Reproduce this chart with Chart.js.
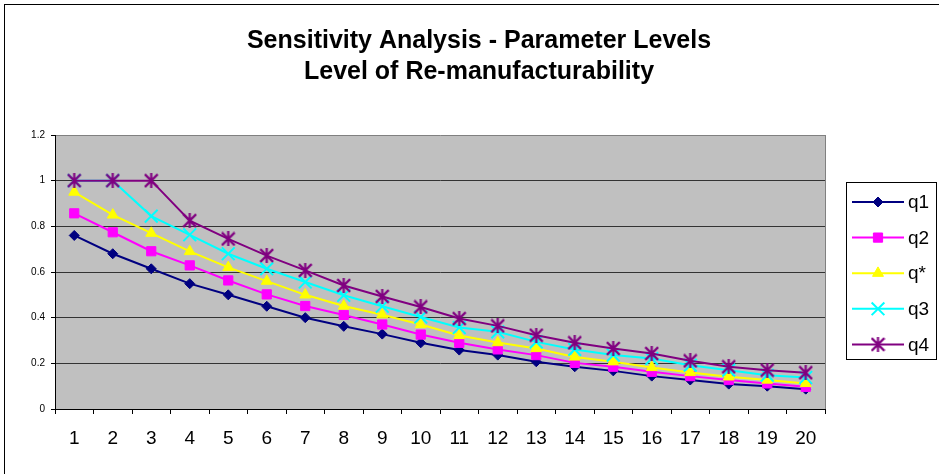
<!DOCTYPE html>
<html lang="en">
<head>
<meta charset="utf-8">
<title>Sensitivity Analysis - Parameter Levels</title>
<script src="https://cdn.jsdelivr.net/npm/chart.js@4.4.1/dist/chart.umd.min.js"></script>
<style>
  html, body { margin: 0; padding: 0; background: #fff; }
  #wrap { width: 939px; height: 474px; }
</style>
</head>
<body>
<div id="wrap">
  <canvas id="levelChart" width="939" height="474"></canvas>
</div>
<script>
// x categories
const periods = ['1', '2', '3', '4', '5', '6', '7', '8', '9', '10',
  '11', '12', '13', '14', '15', '16', '17', '18', '19', '20'];

// series values
const q1 = [0.76, 0.68, 0.614, 0.549, 0.50, 0.45, 0.40, 0.362, 0.328, 0.29,
  0.258, 0.236, 0.207, 0.185, 0.167, 0.144, 0.127, 0.109, 0.10, 0.087];
const q2 = [0.857, 0.774, 0.691, 0.629, 0.563, 0.502, 0.451, 0.412, 0.37, 0.326,
  0.29, 0.261, 0.236, 0.202, 0.185, 0.163, 0.144, 0.127, 0.112, 0.097];
const qStar = [0.95, 0.85, 0.77, 0.69, 0.62, 0.56, 0.50, 0.451, 0.413, 0.37,
  0.322, 0.291, 0.265, 0.228, 0.207, 0.182, 0.16, 0.141, 0.127, 0.112];
const q3 = [1.0, 1.0, 0.845, 0.763, 0.68, 0.614, 0.556, 0.498, 0.45, 0.403,
  0.357, 0.338, 0.294, 0.261, 0.236, 0.221, 0.192, 0.17, 0.148, 0.138];
const q4 = [1.0, 1.0, 1.0, 0.825, 0.745, 0.672, 0.607, 0.541, 0.493, 0.447,
  0.396, 0.364, 0.323, 0.29, 0.265, 0.243, 0.211, 0.185, 0.17, 0.159];

// y axis tick labels (0 .. 1.2 step 0.2)
const yTickLabels = ['0', '0.2', '0.4', '0.6', '0.8', '1', '1.2'];

const titleLines = ['Sensitivity Analysis - Parameter Levels', 'Level of Re-manufacturability'];

const FONT = "'Liberation Sans', Arial, Helvetica, sans-serif";

// asterisk marker: an X (same size as the crossRot marker) plus a vertical bar
function makeStar(color, size) {
  const c = document.createElement('canvas');
  c.width = size;
  c.height = size;
  const g = c.getContext('2d');
  const h = size / 2;
  const d = 6.4;
  g.strokeStyle = color;
  g.lineWidth = 2.2;
  g.beginPath();
  g.moveTo(h, 0);
  g.lineTo(h, size);
  g.moveTo(h - d, h - d);
  g.lineTo(h + d, h + d);
  g.moveTo(h + d, h - d);
  g.lineTo(h - d, h + d);
  g.stroke();
  return c;
}
const starMark = makeStar('#800080', 15);

function series(label, data, color, pointStyle, radius, borderWidth, order) {
  return {
    label: label,
    data: data,
    borderColor: color,
    backgroundColor: color,
    borderWidth: 2,
    pointStyle: pointStyle,
    pointRadius: radius,
    pointBorderWidth: borderWidth,
    pointBackgroundColor: color,
    pointBorderColor: color,
    tension: 0,
    fill: false,
    order: order,
  };
}

const datasets = [
  series('q1', q1, '#000080', 'rectRot', 5, 1, 5),
  series('q2', q2, '#FF00FF', 'rect', 6.5, 1, 4),
  series('q*', qStar, '#FFFF00', 'triangle', 6.3, 1, 3),
  series('q3', q3, '#00FFFF', 'crossRot', 9, 2, 2),
  series('q4', q4, '#800080', starMark, 7.5, 1, 1),
];

// white page, outer frame and grey plot area
const backdrop = {
  id: 'backdrop',
  beforeDraw(chart) {
    const { ctx, chartArea: a } = chart;
    ctx.save();
    ctx.fillStyle = '#fff';
    ctx.fillRect(0, 0, chart.width, chart.height);
    ctx.strokeStyle = '#000';
    ctx.lineWidth = 1;
    ctx.strokeRect(4.5, 4.5, 1200, 1200);
    ctx.fillStyle = '#C0C0C0';
    ctx.fillRect(a.left, a.top, a.right - a.left, a.bottom - a.top);
    ctx.restore();
  },
  beforeDatasetsDraw(chart) {
    const { ctx, chartArea: a } = chart;
    ctx.save();
    ctx.strokeStyle = '#808080';
    ctx.lineWidth = 1;
    ctx.beginPath();
    ctx.moveTo(a.right + 0.5, a.top);
    ctx.lineTo(a.right + 0.5, a.bottom);
    ctx.stroke();
    ctx.restore();
  },
};

// two-line heading
const heading = {
  id: 'heading',
  afterDraw(chart) {
    const ctx = chart.ctx;
    ctx.save();
    ctx.fillStyle = '#000';
    ctx.font = 'bold 25px ' + FONT;
    ctx.textAlign = 'center';
    ctx.textBaseline = 'middle';
    ctx.fillText(titleLines[0], 479, 41);
    ctx.fillText(titleLines[1], 479, 72);
    ctx.restore();
  },
};

// boxed legend on the right, line + marker per series
const sideLegend = {
  id: 'sideLegend',
  afterDraw(chart) {
    const ctx = chart.ctx;
    const box = { x: 846.5, y: 182.5, w: 90, h: 177 };
    ctx.save();
    ctx.fillStyle = '#fff';
    ctx.fillRect(box.x, box.y, box.w, box.h);
    ctx.strokeStyle = '#000';
    ctx.lineWidth = 1;
    ctx.strokeRect(box.x, box.y, box.w, box.h);
    chart.data.datasets.forEach((ds, i) => {
      const y = 202 + i * 35.6;
      ctx.strokeStyle = ds.borderColor;
      ctx.lineWidth = 2;
      ctx.beginPath();
      ctx.moveTo(852, y);
      ctx.lineTo(904, y);
      ctx.stroke();
      ctx.fillStyle = ds.pointBackgroundColor;
      ctx.strokeStyle = ds.pointBorderColor;
      ctx.lineWidth = ds.pointBorderWidth;
      Chart.helpers.drawPoint(ctx, {
        pointStyle: ds.pointStyle,
        radius: ds.pointRadius,
        rotation: 0,
        borderWidth: ds.pointBorderWidth,
      }, 878, y);
      ctx.fillStyle = '#000';
      ctx.font = '19px ' + FONT;
      ctx.textAlign = 'left';
      ctx.textBaseline = 'middle';
      ctx.fillText(ds.label, 908, y + 1);
    });
    ctx.restore();
  },
};

const ctx = document.getElementById('levelChart').getContext('2d');
new Chart(ctx, {
  type: 'line',
  data: { labels: periods, datasets: datasets },
  options: {
    responsive: false,
    animation: false,
    layout: { padding: { top: 135, right: 114, left: 0, bottom: 0 } },
    plugins: {
      legend: { display: false },
      title: { display: false },
      tooltip: { enabled: false },
    },
    scales: {
      x: {
        offset: true,
        grid: {
          offset: true,
          drawOnChartArea: false,
          tickLength: 5,
          color: '#000',
        },
        border: { color: '#000', width: 1 },
        ticks: {
          color: '#000',
          font: { family: FONT, size: 19 },
          padding: 13,
          maxRotation: 0,
          autoSkip: false,
        },
        afterFit(scale) { scale.height = 65; },
      },
      y: {
        min: 0,
        max: 1.2,
        grid: {
          color: (c) => (c.tick && c.tick.value >= 1.19 ? '#808080' : '#333'),
          tickColor: '#000',
          tickLength: 4,
        },
        border: { color: '#000', width: 1 },
        ticks: {
          stepSize: 0.2,
          color: '#000',
          font: { family: FONT, size: 10 },
          padding: 6,
          callback: (v, i) => yTickLabels[i],
        },
        afterFit(scale) { scale.width = 55; },
      },
    },
  },
  plugins: [backdrop, heading, sideLegend],
});
</script>
</body>
</html>
